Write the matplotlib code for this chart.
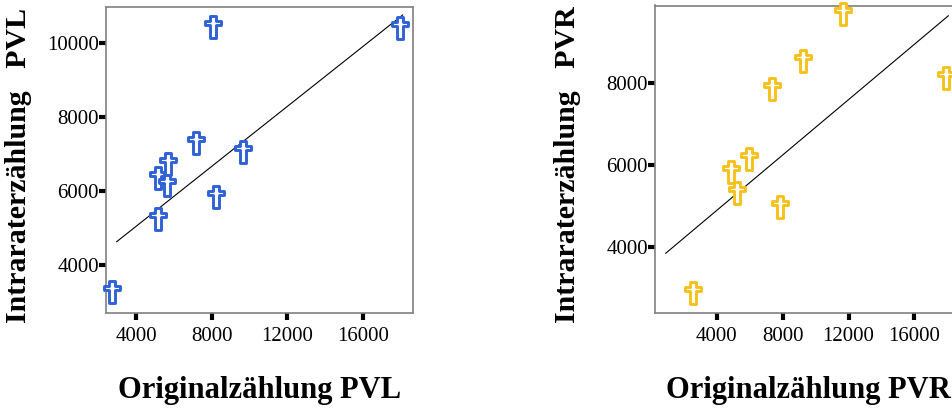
import matplotlib
matplotlib.use("Agg")
import matplotlib.pyplot as plt
from matplotlib.path import Path

# Originalzählung / Intraraterzählung, links PVL
pvl_orig = [2716, 5147, 5147, 5622, 5675, 7171, 8085, 8211, 9670, 17950]
pvl_intra = [3278, 5235, 6343, 6162, 6730, 7306, 10424, 5846, 7062, 10397]
pvl_fit_x = [2980, 18093]
pvl_fit_y = [4630, 10757]

# rechts PVR
pvr_orig = [2543, 4868, 5250, 5942, 7338, 7842, 9256, 11685, 17918]
pvr_intra = [2897, 5837, 5327, 6138, 7840, 4987, 8527, 9669, 8107]
pvr_fit_x = [905, 18058]
pvr_fit_y = [3854, 9621]

x_ticks = [4000, 8000, 12000, 16000]
pvl_yticks = [4000, 6000, 8000, 10000]
pvr_yticks = [4000, 6000, 8000]

# lateinisches Kreuz als Marker
w, top, bot, c1, c2 = 0.17, 0.72, -0.72, 0.1, 0.4
verts = [(-w, bot), (w, bot), (w, c1), (0.5, c1), (0.5, c2), (w, c2), (w, top),
         (-w, top), (-w, c2), (-0.5, c2), (-0.5, c1), (-w, c1), (-w, bot)]
cross = Path(verts, [Path.MOVETO] + [Path.LINETO] * 11 + [Path.CLOSEPOLY])

plt.rcParams['font.family'] = ['Liberation Serif', 'DejaVu Serif']

fig = plt.figure(figsize=(9.52, 4.12), dpi=100)
ax1 = fig.add_axes([106/952, 1-313/412, 307/952, 306/412])
ax2 = fig.add_axes([655/952, 1-313/412, 307/952, 307.5/412])


def panel(ax, xs, ys, fx, fy, col, xlim, ylim, yt, name):
    ax.plot(fx, fy, color='black', lw=0.8, zorder=2)
    ax.scatter(xs, ys, marker=cross, s=270, facecolor='white', edgecolor=col,
               linewidth=2.1, zorder=3, clip_on=False)
    ax.set_xlim(*xlim)
    ax.set_ylim(*ylim)
    ax.set_xticks(x_ticks)
    ax.set_yticks(yt)
    ax.set_xticklabels([str(t) for t in x_ticks])
    ax.set_yticklabels([str(t) for t in yt])
    for s in ax.spines.values():
        s.set_color('#808080')
        s.set_linewidth(1.2)
    ax.tick_params(axis='both', direction='out', length=5, width=3, color='black',
                   labelsize=15)
    ax.tick_params(axis='y', pad=0)
    ax.tick_params(axis='x', pad=5)
    ax.set_xlabel('Originalzählung ' + name, fontsize=22, fontweight='bold', labelpad=22)
    ax.set_ylabel('Intraraterzählung   ' + name, fontsize=21.5, fontweight='bold')
    ax.yaxis.set_label_coords(-0.24, 0.483)


panel(ax1, pvl_orig, pvl_intra, pvl_fit_x, pvl_fit_y, '#2f62d6',
      (2415, 18640), (2703, 10973), pvl_yticks, 'PVL')
panel(ax2, pvr_orig, pvr_intra, pvr_fit_x, pvr_fit_y, '#f7c11c',
      (255, 18889), (2404, 9871), pvr_yticks, 'PVR')

fig.savefig('out.png', dpi=100)
